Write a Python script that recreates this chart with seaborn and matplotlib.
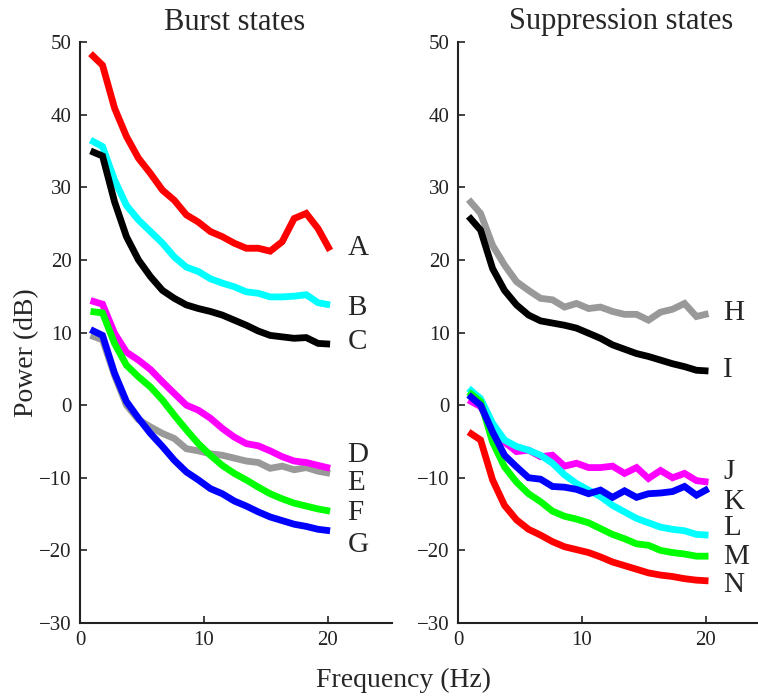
import numpy as np
import pandas as pd
import matplotlib
matplotlib.use("Agg")
import matplotlib.pyplot as plt
import seaborn as sns

sns.set_style("ticks")
plt.rcParams['font.family'] = ['Liberation Serif', 'DejaVu Serif']
plt.rcParams['mathtext.fontset'] = 'stix'

freqs = [0.85, 1.82, 2.79, 3.75, 4.72, 5.69, 6.66, 7.62, 8.59, 9.56, 10.53,
         11.49, 12.46, 13.43, 14.40, 15.36, 16.33, 17.30, 18.27, 19.23, 20.20]

# Burst states
A = [48.4, 46.8, 40.9, 37.0, 34.0, 31.9, 29.6, 28.2, 26.2, 25.2, 23.9,
     23.2, 22.3, 21.6, 21.6, 21.2, 22.5, 25.7, 26.4, 24.3, 21.3]
B = [36.5, 35.6, 31.0, 27.5, 25.5, 23.9, 22.3, 20.4, 19.0, 18.4, 17.4,
     16.8, 16.3, 15.6, 15.4, 14.9, 14.9, 15.0, 15.2, 14.1, 13.8]
C = [35.0, 34.3, 28.0, 23.2, 20.0, 17.7, 15.8, 14.7, 13.8, 13.3, 12.9,
     12.4, 11.7, 11.0, 10.2, 9.6, 9.4, 9.2, 9.3, 8.5, 8.4]
D = [14.4, 13.9, 9.9, 7.3, 6.2, 4.9, 3.2, 1.6, 0.0, -0.7, -1.8,
     -3.2, -4.4, -5.3, -5.6, -6.3, -7.1, -7.7, -7.9, -8.3, -8.7]
E = [9.6, 9.0, 4.1, 0.0, -2.0, -3.0, -3.9, -4.6, -6.0, -6.3, -6.7,
     -6.9, -7.3, -7.7, -7.9, -8.7, -8.4, -8.9, -8.6, -9.1, -9.4]
F = [12.9, 12.7, 8.5, 5.5, 3.9, 2.5, 0.7, -1.4, -3.4, -5.3, -6.9,
     -8.3, -9.4, -10.3, -11.3, -12.2, -12.9, -13.5, -13.9, -14.3, -14.6]
G = [10.4, 9.6, 4.4, 0.5, -1.8, -3.9, -5.7, -7.6, -9.2, -10.3, -11.5,
     -12.2, -13.2, -13.9, -14.7, -15.4, -15.9, -16.4, -16.7, -17.1, -17.3]

# Suppression states
H = [28.3, 26.4, 22.0, 19.3, 17.0, 15.8, 14.7, 14.5, 13.5, 14.0, 13.3,
     13.5, 12.9, 12.5, 12.5, 11.7, 12.8, 13.2, 14.0, 12.2, 12.6]
I = [26.0, 24.1, 18.8, 15.8, 13.8, 12.4, 11.6, 11.3, 11.0, 10.6, 9.9,
     9.2, 8.3, 7.7, 7.1, 6.7, 6.2, 5.7, 5.3, 4.8, 4.7]
J = [0.7, -0.2, -3.0, -5.1, -6.4, -6.2, -7.1, -6.9, -8.4, -8.0, -8.6,
     -8.6, -8.4, -9.4, -8.6, -10.1, -9.0, -10.0, -9.4, -10.4, -10.6]
K = [1.4, 0.0, -3.7, -6.9, -8.5, -10.0, -10.2, -11.2, -11.3, -11.6, -12.2,
     -11.7, -12.7, -11.8, -12.7, -12.2, -12.1, -11.9, -11.2, -12.4, -11.5]
L = [2.3, 0.9, -2.5, -4.8, -5.7, -6.2, -6.9, -8.0, -9.6, -10.8, -11.7,
     -12.6, -13.8, -14.7, -15.6, -16.2, -16.8, -17.1, -17.3, -17.8, -17.9]
M = [1.8, 0.5, -5.1, -8.5, -10.6, -12.2, -13.3, -14.6, -15.3, -15.7, -16.2,
     -17.0, -17.8, -18.4, -19.1, -19.3, -20.0, -20.3, -20.5, -20.8, -20.8]
N = [-3.7, -4.8, -10.3, -13.8, -15.8, -17.1, -17.9, -18.8, -19.5, -19.9, -20.3,
     -20.9, -21.6, -22.1, -22.6, -23.1, -23.4, -23.6, -23.9, -24.1, -24.2]

burst_names = ["A", "B", "C", "D", "E", "F", "G"]
burst_series = [A, B, C, D, E, F, G]
burst_colors = ["#ff0000", "#00ffff", "#000000", "#ff00ff", "#999999", "#00ff00", "#0000ff"]
burst_label_y = [21.6, 13.4, 8.7, -6.9, -10.7, -14.9, -19.3]
burst_order = ["A", "B", "C", "E", "D", "F", "G"]

supp_names = ["H", "I", "J", "K", "L", "M", "N"]
supp_series = [H, I, J, K, L, M, N]
supp_colors = ["#999999", "#000000", "#ff00ff", "#0000ff", "#00ffff", "#00ff00", "#ff0000"]
supp_label_y = [12.7, 4.8, -9.2, -13.4, -16.9, -20.9, -24.8]
supp_order = ["H", "I", "J", "L", "M", "K", "N"]

yticks = [-30, -20, -10, 0, 10, 20, 30, 40, 50]
xticks = [0, 10, 20]

W, Hpx = 758, 700
fig = plt.figure(figsize=(W / 100, Hpx / 100), dpi=100)
ax1 = fig.add_axes([80 / W, 77 / Hpx, 312 / W, 581 / Hpx])
ax2 = fig.add_axes([458 / W, 77 / Hpx, 300 / W, 581 / Hpx])


def draw(ax, names, series, colors, label_y, order, label_x, xmax):
    df = pd.DataFrame({
        "freq": np.tile(freqs, len(names)),
        "power": np.concatenate([np.asarray(s, float) for s in series]),
        "state": np.repeat(names, len(freqs)),
    })
    pal = dict(zip(names, colors))
    for nm in order:
        sub = df[df["state"] == nm]
        sns.lineplot(data=sub, x="freq", y="power", color=pal[nm], lw=4.9,
                     ax=ax, legend=False, solid_capstyle="butt", solid_joinstyle="miter")
    for nm, ly in zip(names, label_y):
        ax.text(label_x, ly, nm, fontsize=21, ha="left", va="center")
    ax.set_xlim(0, xmax)
    ax.set_ylim(-30, 50)
    ax.set_xticks(xticks)
    ax.set_yticks(yticks)
    ax.set_xlabel("")
    ax.set_ylabel("")
    ax.tick_params(direction="in", length=5, width=1.2, labelsize=15, pad=6, colors="#222222")
    for s in ["top", "right"]:
        ax.spines[s].set_visible(False)
    for s in ["left", "bottom"]:
        ax.spines[s].set_linewidth(1.5)
        ax.spines[s].set_color("#222222")


draw(ax1, burst_names, burst_series, burst_colors, burst_label_y, burst_order, 21.6, 25.2)
draw(ax2, supp_names, supp_series, supp_colors, supp_label_y, supp_order, 21.4, 300 / 12.4)

fig.text(235 / W, 1 - 22 / Hpx, "Burst states", fontsize=22, ha="center", va="center")
fig.text(621 / W, 1 - 22 / Hpx, "Suppression states", fontsize=22, ha="center", va="center")
fig.text(27 / W, 1 - 353 / Hpx, "Power (dB)", fontsize=20, ha="center", va="center", rotation=90)
fig.text(404 / W, 1 - 680 / Hpx, "Frequency (Hz)", fontsize=20, ha="center", va="center")

fig.savefig("out.png", dpi=100)
